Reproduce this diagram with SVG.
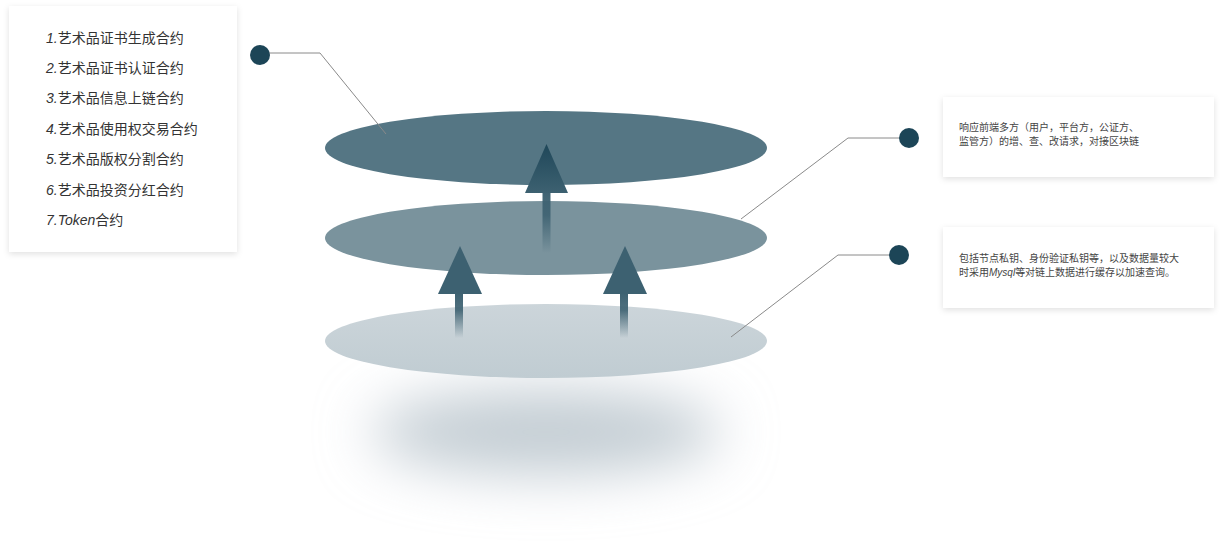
<svg xmlns="http://www.w3.org/2000/svg" width="1229" height="548" viewBox="0 0 1229 548">
<style>
.list{font-family:"Noto Sans CJK SC","Liberation Sans",sans-serif;font-size:14px;fill:#333}
.num{font-family:"Liberation Sans",sans-serif;font-style:italic}
.desc{font-family:"Noto Sans CJK SC","Liberation Sans",sans-serif;font-size:10px;fill:#444}
.it{font-family:"Liberation Sans",sans-serif;font-style:italic}
.card{fill:#fff;filter:url(#sh)}
.conn{fill:none;stroke:#8a8a8a;stroke-width:1}
.dot{fill:#1c4557}
</style>
<defs>
<filter id="sh" x="-10%" y="-10%" width="120%" height="130%">
<feDropShadow dx="0" dy="2" stdDeviation="3" flood-color="#000" flood-opacity="0.12"/>
</filter>
<filter id="blur" x="-50%" y="-100%" width="200%" height="300%">
<feGaussianBlur stdDeviation="28"/>
</filter>
<linearGradient id="bottomFill" x1="0" y1="0" x2="0" y2="1">
<stop offset="0" stop-color="#ccd5da"/>
<stop offset="1" stop-color="#c0ccd2"/>
</linearGradient>
<linearGradient id="headTop" x1="0" y1="0" x2="0" y2="1">
<stop offset="0" stop-color="#1f4759"/>
<stop offset="1" stop-color="#3d6171"/>
</linearGradient>
<linearGradient id="stem" x1="0" y1="0" x2="0" y2="1">
<stop offset="0" stop-color="#3d6171" stop-opacity="1"/>
<stop offset="0.4" stop-color="#3d6171" stop-opacity="0.9"/>
<stop offset="1" stop-color="#3d6171" stop-opacity="0"/>
</linearGradient>
</defs>
<rect width="1229" height="548" fill="#fff"/>

<g id="shadow">
<ellipse cx="546" cy="432" rx="175" ry="42" fill="#c2ccd3" filter="url(#blur)"/>
</g>

<g id="layer-bottom">
<ellipse cx="546" cy="341" rx="221" ry="37" fill="url(#bottomFill)"/>
</g>
<g id="layer-middle">
<ellipse cx="546" cy="238" rx="221" ry="37" fill="#7a939d"/>
</g>
<g id="arrow-left">
<rect x="455" y="292" width="8" height="46" fill="url(#stem)"/>
<polygon points="460,246 482,294 438,294" fill="#3d6171"/>
</g>
<g id="arrow-right">
<rect x="620" y="292" width="8" height="46" fill="url(#stem)"/>
<polygon points="625,246 647,294 603,294" fill="#3d6171"/>
</g>
<g id="layer-top">
<ellipse cx="546" cy="148" rx="221" ry="37" fill="#557684"/>
</g>
<g id="arrow-center">
<rect x="542.5" y="190" width="8" height="63" fill="url(#stem)"/>
<polygon points="546.5,144 568,193 525,193" fill="url(#headTop)"/>
</g>

<g id="contracts-card">
<rect class="card" x="9" y="6" width="228" height="246"/>
<text class="list" x="46" y="42.5"><tspan class="num">1.</tspan>艺术品证书生成合约</text>
<text class="list" x="46" y="73"><tspan class="num">2.</tspan>艺术品证书认证合约</text>
<text class="list" x="46" y="103"><tspan class="num">3.</tspan>艺术品信息上链合约</text>
<text class="list" x="46" y="133.5"><tspan class="num">4.</tspan>艺术品使用权交易合约</text>
<text class="list" x="46" y="164"><tspan class="num">5.</tspan>艺术品版权分割合约</text>
<text class="list" x="46" y="194.5"><tspan class="num">6.</tspan>艺术品投资分红合约</text>
<text class="list" x="46" y="225"><tspan class="num">7.Token</tspan>合约</text>
</g>

<g id="request-card">
<rect class="card" x="943" y="97" width="271" height="80"/>
<text class="desc" x="959" y="131">响应前端多方（用户，平台方，公证方、</text>
<text class="desc" x="959" y="144.5">监管方）的增、查、改请求，对接区块链</text>
</g>

<g id="storage-card">
<rect class="card" x="943" y="227" width="271" height="81"/>
<text class="desc" x="959" y="262">包括节点私钥、身份验证私钥等，以及数据量较大</text>
<text class="desc" x="959" y="276">时采用<tspan class="it">Mysql</tspan>等对链上数据进行缓存以加速查询。</text>
</g>

<g id="connectors">
<polyline class="conn" points="260,53 320,53 386,134"/>
<polyline class="conn" points="909,138 848,138 741,219"/>
<polyline class="conn" points="899,255 838,255 731,337"/>
<circle class="dot" cx="260" cy="55" r="10"/>
<circle class="dot" cx="909" cy="138" r="10"/>
<circle class="dot" cx="899" cy="255" r="10"/>
</g>
</svg>
